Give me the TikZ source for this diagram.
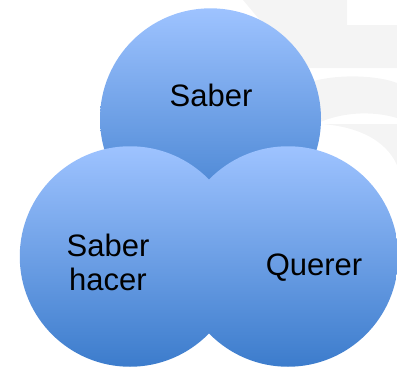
\documentclass[tikz,border=0pt]{standalone}
\usepackage{fontspec}
\setmainfont{Liberation Sans}
\usetikzlibrary{positioning}

\definecolor{azulclaro}{RGB}{158,195,255}
\definecolor{azuloscuro}{RGB}{60,124,204}
\definecolor{marcagris}{RGB}{244,244,244}

\tikzset{
  circulo/.style={circle, inner sep=0pt, minimum size=220.5pt,
    top color=azulclaro, bottom color=azuloscuro, draw=none},
  etiqueta/.style={font=\fontsize{31}{33.5}\selectfont, align=center,
    text=black, inner sep=0pt, anchor=base},
  marca/.style={fill=marcagris, draw=none}
}

\begin{document}
\begin{tikzpicture}[x=1pt,y=-1pt]
  \useasboundingbox (0,0) rectangle (397,367);
  % marca de agua
  \fill[marca] (243,0) -- (347,0) -- (347,25) -- (397,25) -- (397,68) -- (300,68) -- cycle;
  \fill[marca] (310,82) .. controls (340,73) and (380,76) .. (397,83) -- (397,118)
     .. controls (370,110) and (340,113) .. (318,123) -- cycle;
  \fill[marca] (322,124) -- (397,124) -- (397,165) .. controls (386,141) and (360,127) .. (322,124);
  % circulos
  \node[circulo, minimum size=221pt] (saber) at (210.5,118.8) {};
  \node[circulo] (hacer) at (130,256.5) {};
  \node[circulo] (querer) at (288,256.5) {};
  % textos
  \node[etiqueta] (tsaber) at ([shift={(0.5,-12.8)}]saber.center) {Saber};
  \node[etiqueta] (thacer) at ([shift={(-22,33.8)}]hacer.center) {Saber\\hacer};
  \node[etiqueta] (tquerer) at ([shift={(26,18.5)}]querer.center) {Querer};
\end{tikzpicture}
\end{document}
